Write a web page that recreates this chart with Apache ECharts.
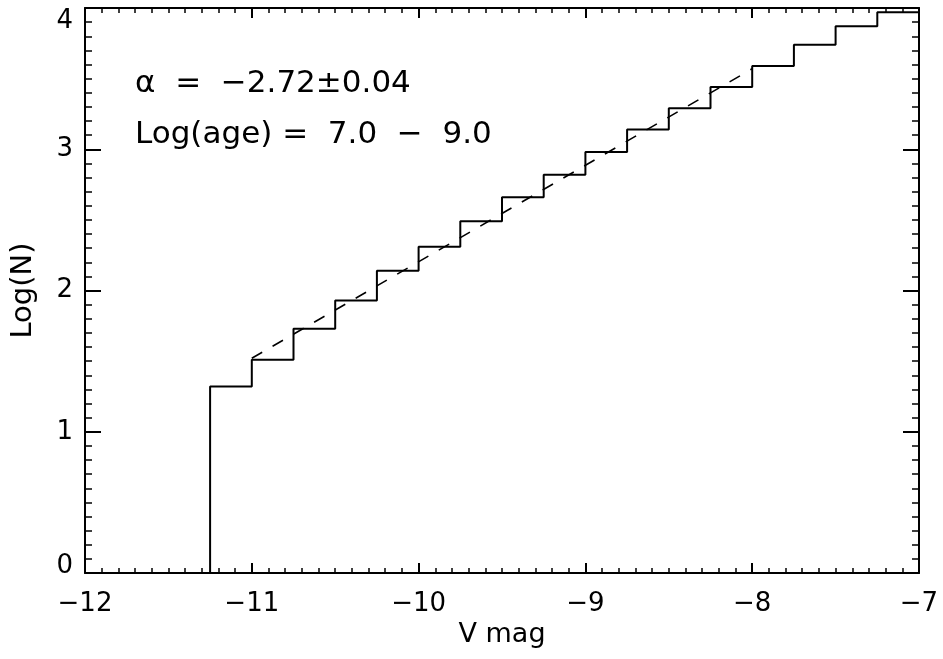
<!DOCTYPE html>
<html style="height: 100%">
<head>
<meta charset="utf-8">
<script src="https://cdn.jsdelivr.net/npm/echarts@6/dist/echarts.min.js"></script>
</head>
<body style="height: 100%; margin: 0; background: #fff">
<div id="container" style="width: 943px; height: 659px"></div>
<script type="text/javascript">
// histogram bin edges (V mag) and log counts per bin
var binEdges = [-11.25, -11.0, -10.75, -10.5, -10.25, -10.0, -9.75, -9.5, -9.25,
                -9.0, -8.75, -8.5, -8.25, -8.0, -7.75, -7.5, -7.25, -7.0];
var logN = [1.32, 1.51, 1.73, 1.93, 2.14, 2.31, 2.49, 2.66, 2.82,
            2.98, 3.14, 3.29, 3.44, 3.59, 3.74, 3.87, 3.97];
// power-law fit (dashed)
var fitX = [-11.0, -8.0];
var fitY = [1.52, 3.57];
var notes = ['\u03b1  =  \u22122.72\u00b10.04', 'Log(age) =  7.0  \u2212  9.0'];

var FONT = 'DejaVu Sans';
var dom = document.getElementById('container');
var myChart = echarts.init(dom);

var stepData = [[binEdges[0], 0]];
for (var i = 0; i < logN.length; i++) {
    stepData.push([binEdges[i + 1], logN[i]]);
}
var fitData = fitX.map(function (x, i) { return [x, fitY[i]]; });

function minus(v) { return String(v).replace('-', '\u2212'); }

var lineStyle = { color: '#000', width: 2 };
var baseX = {
    type: 'value', min: -12, max: -7, interval: 1,
    axisLine: { show: true, onZero: false, lineStyle: lineStyle },
    axisTick: { show: true, inside: true, length: 10, lineStyle: lineStyle },
    minorTick: { show: true, splitNumber: 10, length: 5, lineStyle: { color: '#000', width: 1.5 } },
    splitLine: { show: false }
};
var baseY = {
    type: 'value', min: 0, max: 4, interval: 1,
    axisLine: { show: true, onZero: false, lineStyle: lineStyle },
    axisTick: { show: true, inside: true, length: 16, lineStyle: lineStyle },
    minorTick: { show: true, splitNumber: 10, length: 7, lineStyle: { color: '#000', width: 1.5 } },
    splitLine: { show: false }
};

var option = {
    animation: false,
    grid: { left: 85, right: 24, top: 8, bottom: 86 },
    xAxis: [
        echarts.util.merge({
            position: 'bottom',
            name: 'V mag', nameLocation: 'middle', nameGap: 46,
            nameTextStyle: { fontFamily: FONT, fontSize: 27, color: '#000' },
            axisLabel: {
                margin: 18, fontFamily: FONT, fontSize: 26, color: '#000',
                showMinLabel: true, showMaxLabel: true, formatter: minus
            }
        }, baseX, true),
        echarts.util.merge({ position: 'top', axisLabel: { show: false } }, baseX, true)
    ],
    yAxis: [
        echarts.util.merge({
            position: 'left',
            name: 'Log(N)', nameLocation: 'middle', nameGap: 47,
            nameTextStyle: { fontFamily: FONT, fontSize: 29, color: '#000' },
            axisLabel: {
                margin: 12, fontFamily: FONT, fontSize: 26, color: '#000',
                showMinLabel: true, showMaxLabel: true,
                formatter: function (v) {
                    if (v === 4) return '{top|4}';
                    if (v === 0) return '{bot|0}';
                    return String(v);
                },
                rich: {
                    top: { fontFamily: FONT, fontSize: 26, color: '#000', padding: [26, 0, 0, 0] },
                    bot: { fontFamily: FONT, fontSize: 26, color: '#000', padding: [0, 0, 14, 0] }
                }
            }
        }, baseY, true),
        echarts.util.merge({ position: 'right', axisLabel: { show: false } }, baseY, true)
    ],
    graphic: notes.map(function (t, i) {
        return {
            type: 'text', left: 135, top: 68 + i * 51,
            style: { text: t, font: '31px "' + FONT + '"', fill: '#000' }
        };
    }),
    series: [
        {
            type: 'line', step: 'start', data: stepData, symbol: 'none',
            lineStyle: { color: '#000', width: 2 }
        },
        {
            type: 'line', data: fitData, symbol: 'none',
            lineStyle: { color: '#000', width: 1.6, type: [12, 12] }
        }
    ]
};
myChart.setOption(option);
</script>
</body>
</html>
